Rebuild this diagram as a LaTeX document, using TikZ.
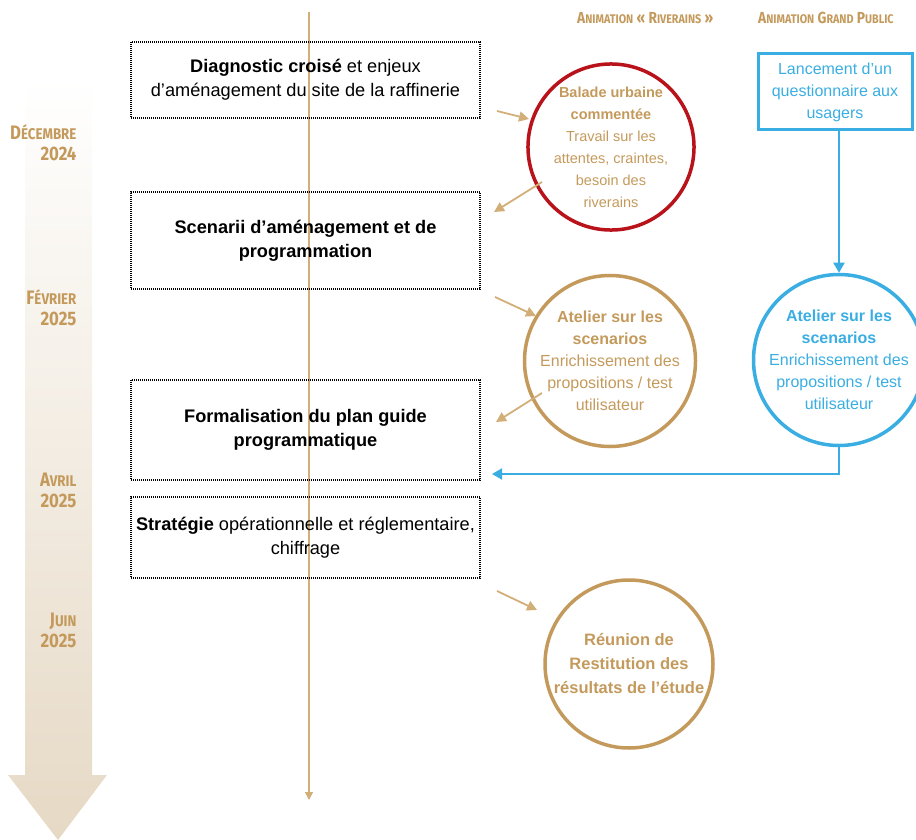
\documentclass[tikz,border=0pt]{standalone}
\usepackage{fontspec}
\setmainfont{Liberation Sans}
\newfontfamily\condfont[FakeStretch=0.86]{Fira Sans}
\usetikzlibrary{arrows.meta,positioning,calc,shapes}

\definecolor{gold}{HTML}{C49A5C}
\definecolor{goldline}{HTML}{D2AE78}
\definecolor{bordeaux}{HTML}{B8121B}
\definecolor{ciel}{HTML}{3AAEE2}
\definecolor{beige}{HTML}{E6D9C5}

\newcommand\petit[1]{{\fontsize{15.5}{16}\selectfont #1}}
\newcommand\minus[1]{{\fontsize{12.5}{13}\selectfont #1}}

\tikzset{
  etape/.style={draw, dash pattern=on 1pt off 1pt, line width=1.2pt, minimum width=349pt,
    inner xsep=1pt, align=center, font=\fontsize{18.2}{24}\selectfont},
  rond/.style={circle, draw, line width=3.5pt, inner sep=0pt, align=center,
    font=\fontsize{16}{22}\selectfont},
  date/.style={anchor=east, align=right, text=gold, font=\condfont\bfseries\fontsize{19.5}{21}\selectfont},
  titre/.style={anchor=west, inner sep=0pt, text=gold, font=\condfont\bfseries\fontsize{16}{18}\selectfont},
  fleche/.style={goldline, line width=1.8pt, -{Triangle[length=10pt,width=10pt]}},
  bleue/.style={ciel, line width=2pt, -{Triangle[length=10pt,width=11pt]}},
}

\begin{document}
\begin{tikzpicture}[x=1pt,y=-1pt]

        \useasboundingbox (0,0) rectangle (916,840);

        \shade[top color=white, bottom color=beige] (25,78) -- (92,78) -- (92,775) -- (107,775)
          -- (58,840) -- (8,775) -- (25,775) -- cycle;

        \coordinate (haut) at (309,12);
        \coordinate (bas) at (309,800);
        \draw[goldline, line width=1.5pt, -{Triangle[length=8pt,width=8pt]}] (haut) -- (bas);

        \node[date] (dec) at (80,143) {D\petit{ÉCEMBRE}\\2024};
        \node[date] (fev) at (80,308) {F\petit{ÉVRIER}\\2025};
        \node[date] (avr) at (80,490) {A\petit{VRIL}\\2025};
        \node[date] (juin) at (80,630) {J\petit{UIN}\\2025};

        \node[titre] (riv) at (577,18) {A\minus{NIMATION} « R\minus{IVERAINS} »};
        \node[titre] (pub) at (758,18) {A\minus{NIMATION} G\minus{RAND} P\minus{UBLIC}};

        \node[etape, minimum height=76pt] (diag) at (305.5,80)
          {\textbf{Diagnostic croisé} et enjeux\\d’aménagement du site de la raffinerie};
        \node[etape, minimum height=97pt] (scen) at (305.5,240.5)
          {\textbf{Scenarii d’aménagement et de}\\\textbf{programmation}};
        \node[etape, minimum height=100pt] (plan) at (305.5,430)
          {\textbf{Formalisation du plan guide}\\\textbf{programmatique}};
        \node[etape, minimum height=81pt] (strat) at (305.5,537.5)
          {\textbf{Stratégie} opérationnelle et réglementaire,\\chiffrage};

        \node[rond, bordeaux, text=gold, minimum size=142pt, font=\fontsize{14.5}{22}\selectfont] (balade) at (611,147)
          {\textbf{Balade urbaine}\\\textbf{commentée}\\Travail sur les\\attentes, craintes,\\besoin des\\riverains};
        \node[rond, gold, minimum size=140pt] (atelier) at (610,361)
          {\textbf{Atelier sur les}\\\textbf{scenarios}\\Enrichissement des\\propositions / test\\utilisateur};
        \node[rond, ciel, minimum size=146pt] (atelierb) at (839,360)
          {\textbf{Atelier sur les}\\\textbf{scenarios}\\Enrichissement des\\propositions / test\\utilisateur};
        \node[rond, gold, minimum size=168pt, font=\bfseries\fontsize{16.5}{24}\selectfont] (reunion) at (629,664)
          {Réunion de\\Restitution des\\résultats de l’étude};

        \node[draw=ciel, line width=3pt, text=ciel, minimum width=154pt, minimum height=76pt,
          align=center, font=\fontsize{16}{22}\selectfont] (quest) at (835,92)
          {Lancement d’un\\questionnaire aux\\usagers};

        \draw[bleue] (quest.south -| atelierb.north) -- (atelierb.north);
        \coordinate (retour) at (492,474);
        \draw[bleue] (atelierb.south) |- (retour);

        \coordinate (a1) at (497,111);
        \coordinate (b1) at (529,119);
        \coordinate (a2) at (542,182);
        \coordinate (b2) at (494,212);
        \coordinate (a3) at (495,297);
        \coordinate (b3) at (536,316);
        \coordinate (a4) at (542,393);
        \coordinate (b4) at (496,422);
        \coordinate (a5) at (497,591);
        \coordinate (b5) at (537,610);
        \draw[fleche] (a1) -- (b1);
        \draw[fleche] (a2) -- (b2);
        \draw[fleche] (a3) -- (b3);
        \draw[fleche] (a4) -- (b4);
        \draw[fleche] (a5) -- (b5);

      \end{tikzpicture}
\end{document}
